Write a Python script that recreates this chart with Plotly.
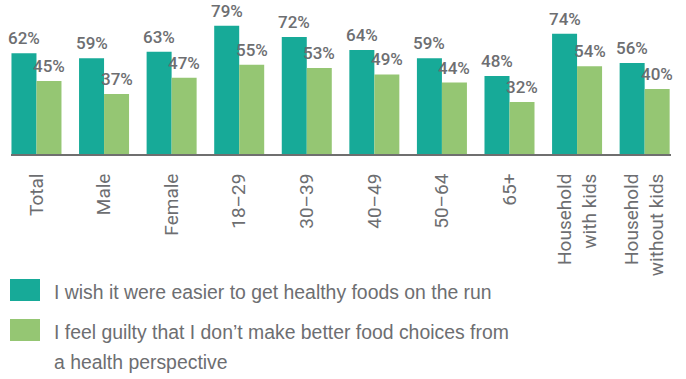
import plotly.graph_objects as go

# Survey results by respondent group (% agreeing)
categories = ["Total", "Male", "Female", "18–29", "30–39", "40–49", "50–64", "65+",
              "Household<br>with kids", "Household<br>without kids"]
wish_easier = [62, 59, 63, 79, 72, 64, 59, 48, 74, 56]
feel_guilty = [45, 37, 47, 55, 53, 49, 44, 32, 54, 40]
series_names = ["I wish it were easier to get healthy foods on the run",
                "I feel guilty that I don’t make better food choices from<br>a health perspective"]

TEAL = "#17aa98"
GREEN = "#95c673"
GREY = "#6d6e71"
NARROW = "Roboto, Liberation Sans, sans-serif"
SANS = "Liberation Sans, Arial, Helvetica, sans-serif"

W, H = 686, 379
L, R, T, B = 11, 15, 10, 225
PW, PH = W - L - R, H - T - B
BARGAP = 0.26
X_RANGE = [-0.377, 9.39]


def px_x(px):
    return (px - L) / PW


def px_y(py):
    return (H - B - py) / PH


fig = go.Figure()
for vals, color in ((wish_easier, TEAL), (feel_guilty, GREEN)):
    fig.add_trace(go.Bar(
        x=categories, y=vals, marker=dict(color=color, line=dict(width=0)),
        cliponaxis=False, showlegend=False,
    ))

# Value labels above each bar (offset to the bar's slot within its group)
px_per_cat = PW / (X_RANGE[1] - X_RANGE[0])
half_bar = (1 - BARGAP) / 4 * px_per_cat
for vals, shift in ((wish_easier, -half_bar), (feel_guilty, half_bar)):
    for cat, v in zip(categories, vals):
        fig.add_annotation(x=cat, y=v, xref="x", yref="y", text=f"{v}%",
                           showarrow=False, xanchor="center", yanchor="bottom",
                           xshift=shift, yshift=3,
                           font=dict(family=NARROW, size=17, color=GREY, weight=500))

# Hand-built legend: wide swatches with wrapped labels
swatches = [(279, 301, TEAL), (319, 341, GREEN)]
for y0, y1, color in swatches:
    fig.add_shape(type="rect", xref="paper", yref="paper",
                  x0=px_x(10), x1=px_x(40), y0=px_y(y1), y1=px_y(y0),
                  fillcolor=color, line=dict(width=0))
legend_lines = [(292, series_names[0])] + [
    (332 + 30 * i, line) for i, line in enumerate(series_names[1].split("<br>"))]
for yc, txt in legend_lines:
    fig.add_annotation(xref="paper", yref="paper", x=px_x(52), y=px_y(yc),
                       xanchor="left", yanchor="middle", text=txt, showarrow=False,
                       font=dict(family=SANS, size=19.4, color=GREY))

fig.update_layout(
    width=W, height=H, margin=dict(l=L, r=R, t=T, b=B),
    paper_bgcolor="white", plot_bgcolor="white",
    barmode="group", bargap=BARGAP, bargroupgap=0,
    font=dict(family=NARROW, color=GREY),
)
fig.update_xaxes(
    type="category", range=X_RANGE, showgrid=False,
    showline=True, linecolor="#6f6f6f", linewidth=2,
    tickangle=-90, ticks="", ticklabelstandoff=10,
    tickfont=dict(family=NARROW, size=19, color=GREY),
)
fig.update_yaxes(range=[0, PH / 1.625], visible=False, showgrid=False, zeroline=False)

fig.write_html("out.html")
